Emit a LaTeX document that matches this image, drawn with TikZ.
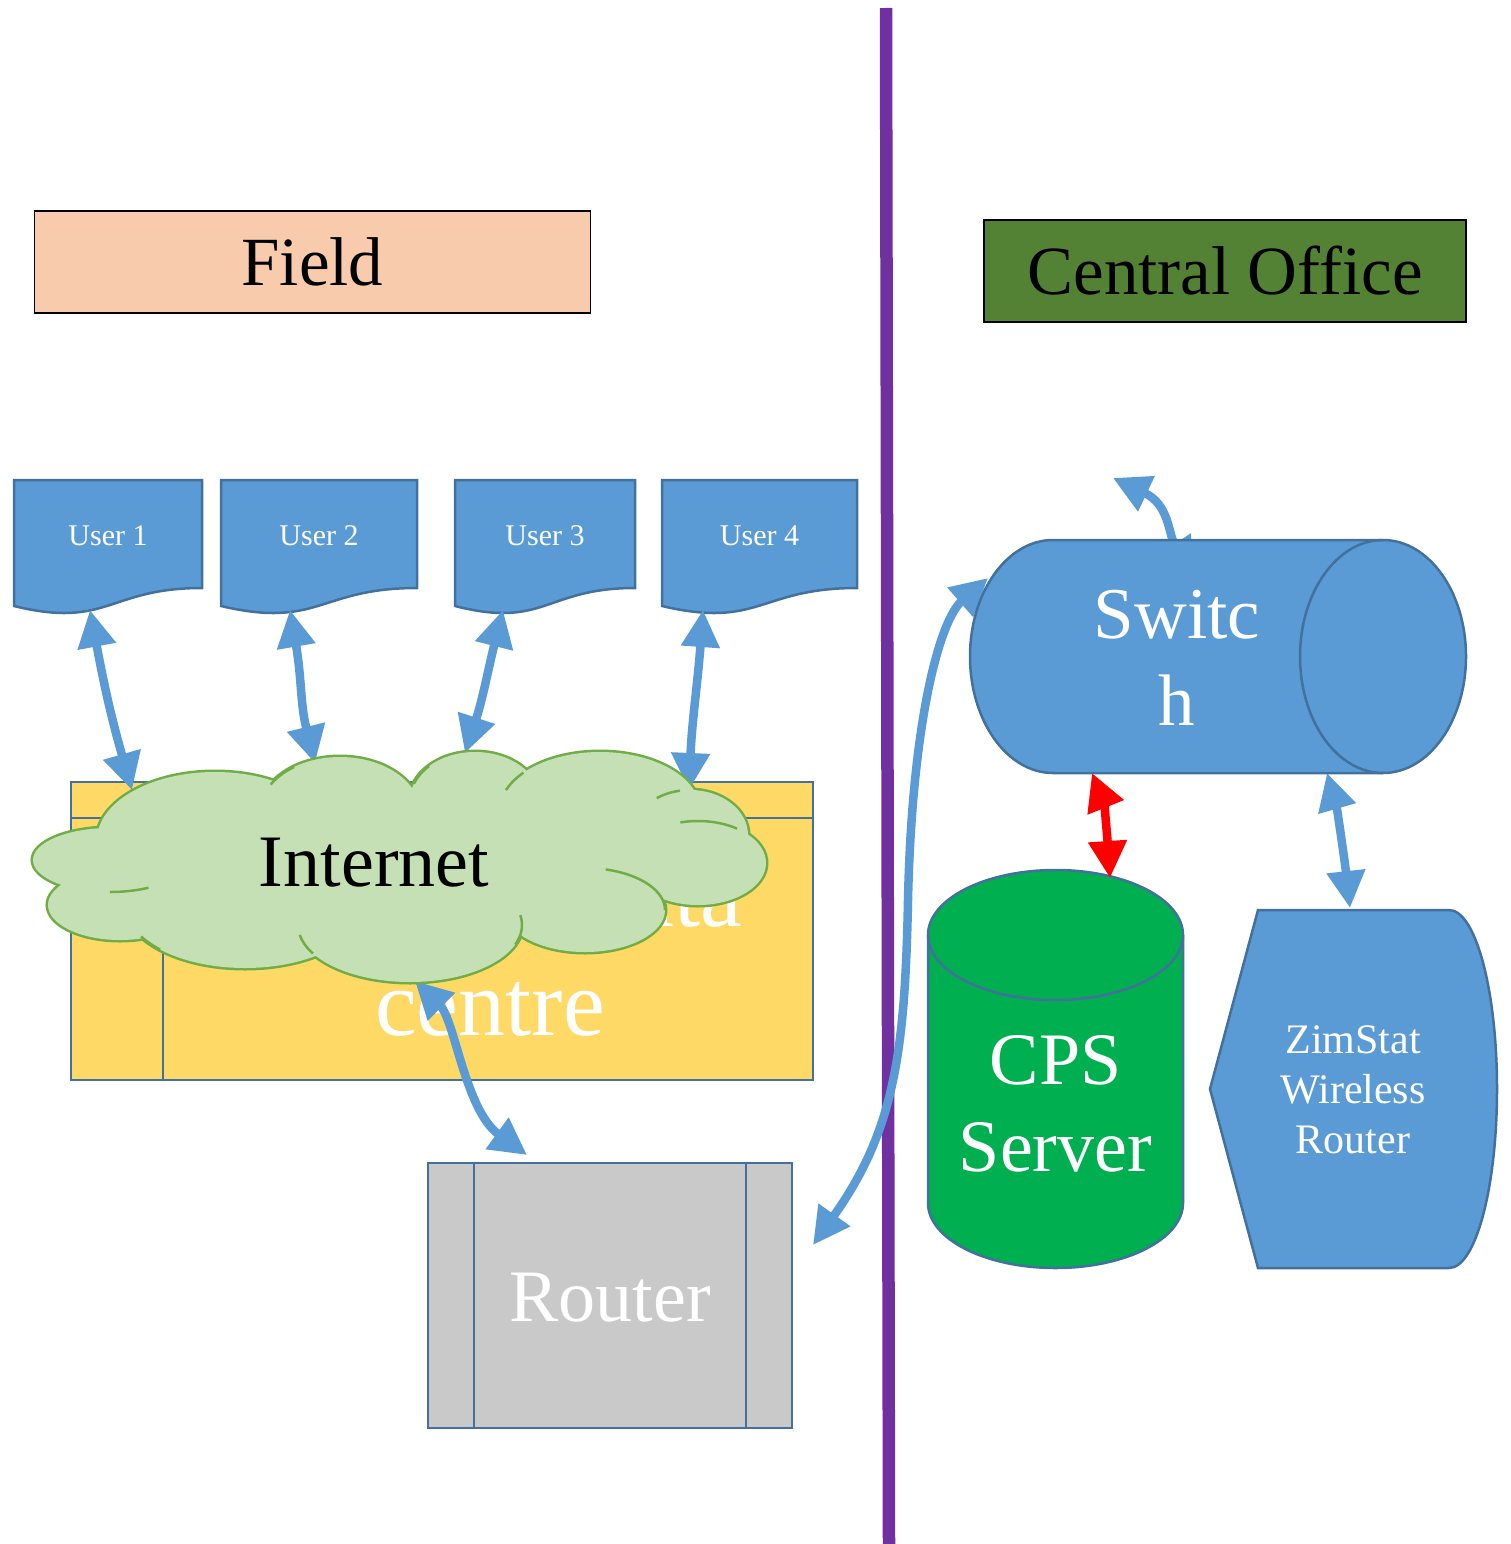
\documentclass[tikz,border=0pt]{standalone}
\usepackage{fontspec}
\setmainfont{Liberation Serif}
\usetikzlibrary{arrows.meta,calc}

\definecolor{fieldfill}{HTML}{F8CBAD}
\definecolor{officefill}{HTML}{548235}
\definecolor{divider}{HTML}{7030A0}
\definecolor{boxblue}{HTML}{5B9BD5}
\definecolor{edgeblue}{HTML}{41719C}
\definecolor{dcfill}{HTML}{FFD966}
\definecolor{cloudfill}{HTML}{C5E0B4}
\definecolor{cloudedge}{HTML}{70AD47}
\definecolor{routerfill}{HTML}{C9C9C9}
\definecolor{serverfill}{HTML}{00B050}

% user terminal drawn as a flowchart "document" sheet between x = #1 and x = #2
\newcommand\userdoc[2]{%
  \filldraw[docshape] (#1,480) -- (#2,480) -- (#2,588)
    .. controls ({(#1+#2)/2},588) and ({(#1+#2)/2},629) .. (#1,606) -- cycle;}

\begin{document}
\begin{tikzpicture}[x=1pt,y=-1pt,
  banner/.style={draw=black,line width=1.8pt,inner sep=0pt,font=\fontsize{69}{80}\selectfont},
  docshape/.style={fill=boxblue,draw=edgeblue,line width=2.5pt},
  shapeedge/.style={draw=edgeblue,line width=2.5pt},
  usertxt/.style={text=white,font=\fontsize{30}{36}\selectfont},
  bigtxt/.style={text=white,align=center,font=\fontsize{74}{87}\selectfont},
  link/.style={draw=boxblue,line width=8.5pt,
    {Triangle[length=37pt,width=37pt]}-{Triangle[length=37pt,width=37pt]}},
  redlink/.style={link,draw=red},
  cloudpuff/.style={draw=cloudedge,line width=5pt},
  cloudarc/.style={draw=cloudedge,line width=2.5pt}]

\fill[white] (0,0) rectangle (1510,1544);
\useasboundingbox (0,0) rectangle (1510,1544);

% location banners
\node[banner,fill=fieldfill,minimum width=556pt,minimum height=102pt] (field) at (312.5,262) {Field};
\node[banner,fill=officefill,minimum width=482pt,minimum height=102pt] (office) at (1225,271) {Central Office};

% divider between field and central office
\draw[divider,line width=12.5pt] (886,8) -- (889,1544);

% field users
\userdoc{14}{202}
\node[usertxt] (u1) at (108,536) {User 1};
\userdoc{221}{417}
\node[usertxt] (u2) at (319,536) {User 2};
\userdoc{455}{635}
\node[usertxt] (u3) at (545,536) {User 3};
\userdoc{662}{857}
\node[usertxt] (u4) at (759.5,536) {User 4};

% data centre (internal storage symbol)
\filldraw[shapeedge,fill=dcfill] (71,782) rectangle (813,1080);
\draw[shapeedge] (71,818) -- (813,818);
\draw[shapeedge] (163,782) -- (163,1080);
\node[text=white,align=center,font=\fontsize{94}{109}\selectfont] (dc) at (490,950) {ZimStat Data\\centre};

% router (predefined process symbol)
\filldraw[shapeedge,fill=routerfill] (428,1163) rectangle (792,1428);
\draw[shapeedge] (474,1163) -- (474,1428);
\draw[shapeedge] (746,1163) -- (746,1428);
\node[bigtxt] (rt) at (610,1298) {Router};

% CPS server (upright cylinder)
\filldraw[shapeedge,fill=serverfill] (928,935)
  arc[start angle=180,end angle=360,x radius=127.5,y radius=65] -- (1183,1203)
  arc[start angle=0,end angle=180,x radius=127.5,y radius=65] -- cycle;
\draw[shapeedge] (928,935) arc[start angle=180,end angle=0,x radius=127.5,y radius=65];
\node[bigtxt] (cps) at (1055.5,1104) {CPS\\Server};

% wireless router (display symbol)
\filldraw[shapeedge,fill=boxblue] (1210,1089) -- (1258,910) -- (1449,910)
  arc[start angle=-90,end angle=90,x radius=48,y radius=179] -- (1258,1268) -- cycle;
\node[text=white,align=center,font=\fontsize{42}{50}\selectfont] (zim) at (1353,1090) {ZimStat\\Wireless\\Router};

% switch centre (used by the connectors below)
\coordinate (swc) at (1177,658);
\coordinate (swout) at (1113,478);

% connectors
\draw[link] ($(u1)+(-18,74)$) .. controls +(15,80) and +(-20,-70) .. ($(u1)+(24,254)$);
\draw[link] ($(u2)+(-29,74)$) .. controls +(12,70) and +(-15,-60) .. ($(u2)+(-4,227)$);
\draw[link] ($(u3)+(-42,74)$) .. controls +(-15,60) and +(18,-55) .. ($(u3)+(-80,217)$);
\draw[link] ($(u4)+(-56.5,74)$) .. controls +(-5,70) and +(3,-70) .. ($(u4)+(-70.5,254)$);
\draw[link] ($(rt)+(-83,-143)$) .. controls +(-62,-45) and +(40,39) .. (415,981);
\draw[link] ($(rt)+(203,-53)$) .. controls +(82,-115) and +(-3,150) .. (908,900)
  .. controls +(4,-180) and +(-48,42) .. ($(swc)+(-189,-80)$);
\draw[link] ($(swc)+(18,-83)$) .. controls +(-27,-40) and +(57,27) .. (swout);
\draw[redlink] ($(swc)+(-85,115)$) .. controls +(12,30) and +(-3,-45) .. ($(cps)+(54.5,-226)$);
\draw[link] ($(swc)+(150,115)$) .. controls +(10,35) and +(-5,-45) .. ($(zim)+(-3,-182)$);

% Internet cloud: outlined puffs, then refilled so only the outer rim stays
\foreach \cx/\cy/\rx/\ry in {215/840/118/68, 340/812/80/55, 475/800/65/48, 600/810/100/58,
    690/835/58/45, 698/863/68/42, 585/910/80/42, 410/925/112/57, 245/905/120/63,
    120/905/72/35, 110/860/77/32}
  \draw[cloudpuff] (\cx,\cy) ellipse[x radius=\rx,y radius=\ry];
\foreach \cx/\cy/\rx/\ry in {215/840/118/68, 340/812/80/55, 475/800/65/48, 600/810/100/58,
    690/835/58/45, 698/863/68/42, 585/910/80/42, 410/925/112/57, 245/905/120/63,
    120/905/72/35, 110/860/77/32, 400/862/270/70}
  \fill[cloudfill] (\cx,\cy) ellipse[x radius=\rx,y radius=\ry];
% inner puff creases
\draw[cloudarc] ([shift={(585,910)}]-75:80 and 42) arc[start angle=-75,end angle=0,x radius=80,y radius=42];
\draw[cloudarc] ([shift={(698,863)}]-105:68 and 42) arc[start angle=-105,end angle=-55,x radius=68,y radius=42];
\draw[cloudarc] ([shift={(690,835)}]-125:58 and 45) arc[start angle=-125,end angle=-100,x radius=58,y radius=45];
\draw[cloudarc] ([shift={(340,812)}]-150:80 and 55) arc[start angle=-150,end angle=-125,x radius=80,y radius=55];
\draw[cloudarc] ([shift={(475,800)}]-160:65 and 48) arc[start angle=-160,end angle=-135,x radius=65,y radius=48];
\draw[cloudarc] ([shift={(600,810)}]-160:100 and 58) arc[start angle=-160,end angle=-140,x radius=100,y radius=58];
\draw[cloudarc] ([shift={(410,925)}]-10:112 and 57) arc[start angle=-10,end angle=20,x radius=112,y radius=57];
\draw[cloudarc] ([shift={(410,925)}]150:112 and 57) arc[start angle=150,end angle=170,x radius=112,y radius=57];
\draw[cloudarc] ([shift={(245,905)}]135:120 and 63) arc[start angle=135,end angle=150,x radius=120,y radius=63];
\draw[cloudarc] ([shift={(110,860)}]60:77 and 32) arc[start angle=60,end angle=90,x radius=77,y radius=32];
\node[font=\fontsize{74}{87}\selectfont] (net) at (374,863) {Internet};

% switch (horizontal cylinder)
\filldraw[shapeedge,fill=boxblue] (1053,540) -- (1383,540)
  arc[start angle=-90,end angle=90,x radius=83,y radius=116.5] -- (1053,773)
  arc[start angle=90,end angle=270,x radius=83,y radius=116.5] -- cycle;
\draw[shapeedge] (1383,540) arc[start angle=270,end angle=90,x radius=83,y radius=116.5];
\node[bigtxt,font=\fontsize{73}{87}\selectfont] (sw) at (swc) {Switc\\h};

\end{tikzpicture}
\end{document}
